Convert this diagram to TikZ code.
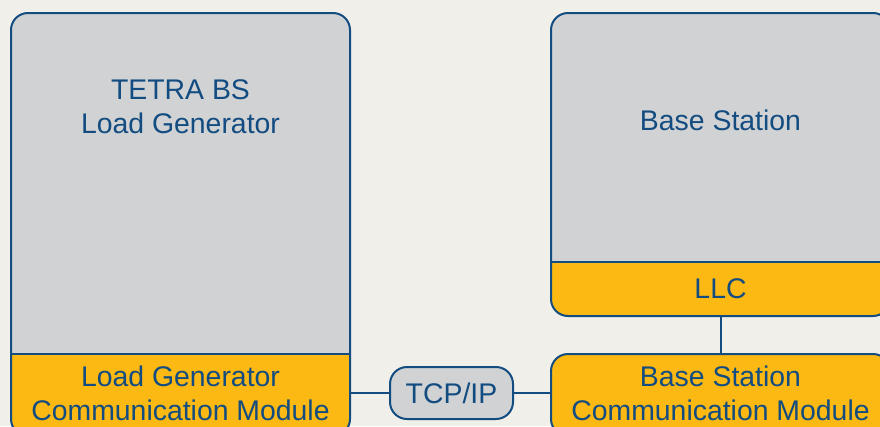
\documentclass[tikz,border=0pt]{standalone}
\usepackage{fontspec}
\setmainfont{Liberation Sans}
\definecolor{cblue}{RGB}{18,76,128}
\definecolor{cgray}{RGB}{209,210,212}
\definecolor{cyellow}{RGB}{252,184,19}
\definecolor{cbg}{RGB}{240,239,234}
\tikzset{lgdiag/.style={x=1pt,y=-1pt,line width=2pt,
    font=\fontsize{28.4}{34}\selectfont}}
\tikzset{lbl/.style={text=cblue,align=center,inner sep=0pt}}
\tikzset{link/.style={draw=cblue,line width=2pt}}

\begin{document}
\begin{tikzpicture}[lgdiag]
    \useasboundingbox (0,0) rectangle (880,426);
    \fill[cbg] (0,0) rectangle (880,426);
    \clip (0,0) rectangle (880,426);
    % load generator
    \begin{scope}
      \clip[rounded corners=17] (11,13) rectangle (350,436);
      \fill[cgray]   (11,13) rectangle (350,354);
      \fill[cyellow] (11,354) rectangle (350,436);
    \end{scope}
    \draw[cblue] (11,354) -- (350,354);
    \draw[cblue,rounded corners=17] (11,13) rectangle (350,436);
    % base station
    \begin{scope}
      \clip[rounded corners=17] (551,13) rectangle (890,316);
      \fill[cgray]   (551,13) rectangle (890,262);
      \fill[cyellow] (551,262) rectangle (890,316);
    \end{scope}
    \draw[cblue] (551,262) -- (890,262);
    \draw[cblue,rounded corners=17] (551,13) rectangle (890,316);
    \draw[cblue,fill=cyellow,rounded corners=17] (551,354) rectangle (890,436);
    % texts
    \node[lbl] (lgname) at (180.5,107) {TETRA BS\\Load Generator};
    \node[lbl,minimum width=339,minimum height=78] (lgcomm) at (180.5,393)
      {Load Generator\\Communication Module};
    \node[lbl] (bsname) at (720.5,120) {Base Station};
    \node[lbl,minimum width=339,minimum height=54] (llc) at (720.5,289) {LLC};
    \node[lbl,minimum width=339,minimum height=78] (bscomm) at (720.5,393)
      {Base Station\\Communication Module};
    \node[lbl,draw=cblue,fill=cgray,rounded corners=17,minimum width=123,
      minimum height=52] (tcp) at (451.5,393) {TCP/IP};
    % links
    \draw[link] (lgcomm.east) -- (tcp.west);
    \draw[link] (tcp.east) -- (bscomm.west);
    \draw[link] (llc.south) -- (bscomm.north);
\end{tikzpicture}
\end{document}
